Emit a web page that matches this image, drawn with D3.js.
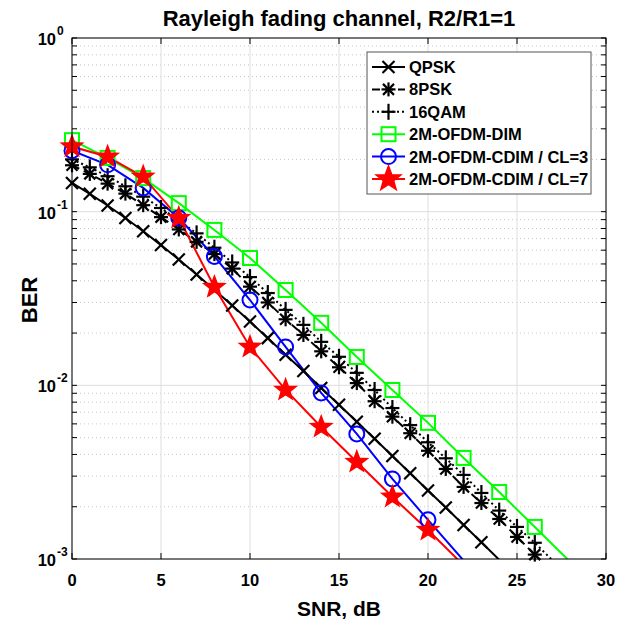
<!DOCTYPE html>
<html><head><meta charset="utf-8">
<script src="https://cdn.jsdelivr.net/npm/d3@7"></script>
<style>body{margin:0;background:#fff}svg{display:block}text{font-family:"Liberation Sans",Arial,sans-serif;font-weight:bold}</style>
</head><body><svg id="c" width="621" height="624"></svg>
<script>
const snrFine = d3.range(0, 28);
const snrCoarse = d3.range(0, 30, 2);
const qpsk = [0.1464,0.1267,0.1085,0.0919,0.0771,0.0642,0.0530,0.0435,0.0355,0.0288,0.0233,0.0187,0.0150,0.0121,0.00966,0.00773,0.00617,0.00492,0.00392,0.00312,0.00248,0.00198,0.00157,0.00125,0.00099,0.00079];
const psk8 = [0.185,0.165,0.145,0.127,0.109,0.093,0.079,0.067,0.057,0.047,0.037,0.030,0.024,0.0195,0.0157,0.0127,0.0103,0.0081,0.0066,0.0053,0.0042,0.0033,0.0026,0.0021,0.0017,0.00134,0.00106,0.00084];
const qam16 = [0.20,0.18,0.16,0.14,0.122,0.105,0.089,0.075,0.062,0.051,0.042,0.034,0.0272,0.0223,0.0178,0.0146,0.0118,0.0094,0.0074,0.0059,0.0047,0.0038,0.00305,0.0024,0.0019,0.00153,0.00124,0.00098];
const dim = [0.258,0.204,0.156,0.112,0.0785,0.0541,0.0354,0.0229,0.01457,0.0094,0.00608,0.00382,0.00243,0.00153,0.00096];
const cdim3 = [0.2245,0.186,0.137,0.092,0.0552,0.031,0.01664,0.00904,0.00525,0.00289,0.00168,0.00098];
const cdim7 = [0.237,0.207,0.159,0.092,0.0368,0.01664,0.00941,0.00576,0.00362,0.00228,0.00147,0.00092];
const seriesNames = ["QPSK","8PSK","16QAM","2M-OFDM-DIM","2M-OFDM-CDIM / CL=3","2M-OFDM-CDIM / CL=7"];
const xTicks = [0,5,10,15,20,25,30];
const yTickExp = [0,-1,-2,-3];

const series = [
  {name:seriesNames[0], x:snrFine, y:qpsk, color:"#000", dash:null, marker:"x"},
  {name:seriesNames[1], x:snrFine, y:psk8, color:"#000", dash:"8,5", marker:"star6"},
  {name:seriesNames[2], x:snrFine, y:qam16, color:"#000", dash:"2,3", marker:"plus"},
  {name:seriesNames[3], x:snrCoarse, y:dim, color:"#00ff00", dash:null, marker:"square"},
  {name:seriesNames[4], x:snrCoarse, y:cdim3, color:"#0000ff", dash:null, marker:"circle"},
  {name:seriesNames[5], x:snrCoarse, y:cdim7, color:"#ff0000", dash:null, marker:"pent"}
];

const L=72,R=606,T=38,B=559;
const x = d3.scaleLinear().domain([0,30]).range([L,R]);
const y = d3.scaleLog().domain([1e-3,1]).range([B,T]);
const svg = d3.select("#c");

svg.append("defs").append("clipPath").attr("id","clip").append("rect")
  .attr("x",L).attr("y",T).attr("width",R-L).attr("height",B-T);

// grid
const g = svg.append("g");
const minorVals = [];
for (let e=-3;e<0;e++) for (let m=2;m<=9;m++) minorVals.push(m*Math.pow(10,e));
g.selectAll(".ymin").data(minorVals).enter().append("line")
  .attr("x1",L).attr("x2",R).attr("y1",d=>y(d)).attr("y2",d=>y(d))
  .attr("stroke","#c8c8c8").attr("stroke-width",1).attr("stroke-dasharray","1,3");
g.selectAll(".ymaj").data(yTickExp.map(e=>Math.pow(10,e))).enter().append("line")
  .attr("x1",L).attr("x2",R).attr("y1",d=>y(d)).attr("y2",d=>y(d))
  .attr("stroke","#dedede").attr("stroke-width",1);
g.selectAll(".xg").data(xTicks).enter().append("line")
  .attr("x1",d=>x(d)).attr("x2",d=>x(d)).attr("y1",T).attr("y2",B)
  .attr("stroke","#dedede").attr("stroke-width",1);

// marker drawing
function marker(sel, type, color, cx, cy, big){
  const gg = sel.append("g").attr("transform",`translate(${cx},${cy})`);
  function ln(x1,y1,x2,y2){gg.append("line").attr("x1",x1).attr("y1",y1).attr("x2",x2).attr("y2",y2).attr("stroke",color).attr("stroke-width",2.2);}
  if(type==="x"){ln(-6,-6,6,6);ln(-6,6,6,-6);}
  else if(type==="plus"){ln(-7,0,7,0);ln(0,-8,0,8);}
  else if(type==="star6"){ln(-7,0,7,0);ln(0,-7,0,7);ln(-5.5,-5.5,5.5,5.5);ln(-5.5,5.5,5.5,-5.5);}
  else if(type==="square"){gg.append("rect").attr("x",-7).attr("y",-7).attr("width",14).attr("height",14).attr("stroke",color).attr("stroke-width",2).attr("fill","none");}
  else if(type==="circle"){gg.append("circle").attr("r",7.5).attr("stroke",color).attr("stroke-width",2).attr("fill","none");}
  else if(type==="pent"){
    const ro = big?13:11, ri = big?5.4:4.6;
    const pts=[];
    for(let i=0;i<10;i++){const r=i%2?ri:ro;const a=-Math.PI/2+i*Math.PI/5;pts.push([r*Math.cos(a),r*Math.sin(a)]);}
    gg.append("path").attr("d","M"+pts.map(p=>p.join(",")).join("L")+"Z").attr("fill",color).attr("stroke",color).attr("stroke-width",1.5).attr("stroke-linejoin","miter");
  }
}

// series
const plot = svg.append("g").attr("clip-path","url(#clip)");
const line = d3.line().x(d=>x(d[0])).y(d=>y(d[1]));
series.forEach(s=>{
  const pts = s.x.slice(0,s.y.length).map((v,i)=>[v,s.y[i]]);
  plot.append("path").attr("d",line(pts)).attr("fill","none").attr("stroke",s.color)
    .attr("stroke-width",2).attr("stroke-dasharray",s.dash);
  const mg = svg.append("g");
  pts.filter(p=>p[1]>=1e-3).forEach(p=>marker(mg,s.marker,s.color,x(p[0]),y(p[1])));
});

// axes box
svg.append("rect").attr("x",L).attr("y",T).attr("width",R-L).attr("height",B-T)
  .attr("fill","none").attr("stroke","#000").attr("stroke-width",1);
// ticks
const tk = svg.append("g").attr("stroke","#000").attr("stroke-width",1);
xTicks.forEach(v=>{
  tk.append("line").attr("x1",x(v)).attr("x2",x(v)).attr("y1",B).attr("y2",B-6);
  tk.append("line").attr("x1",x(v)).attr("x2",x(v)).attr("y1",T).attr("y2",T+6);
});
minorVals.concat(yTickExp.map(e=>Math.pow(10,e))).forEach(v=>{
  tk.append("line").attr("x1",L).attr("x2",L+5).attr("y1",y(v)).attr("y2",y(v));
  tk.append("line").attr("x1",R).attr("x2",R-5).attr("y1",y(v)).attr("y2",y(v));
});
// tick labels
svg.selectAll(".xl").data(xTicks).enter().append("text")
  .attr("x",d=>x(d)).attr("y",586).attr("text-anchor","middle").attr("font-size",16.5).text(d=>d);
yTickExp.forEach(e=>{
  const yy=y(Math.pow(10,e));
  svg.append("text").attr("x",56).attr("y",yy+7).attr("text-anchor","end").attr("font-size",16.5).text("10");
  svg.append("text").attr("x",57).attr("y",yy-3).attr("text-anchor","start").attr("font-size",12).text(e===0?"0":"-"+(-e));
});
// labels
svg.append("text").attr("x",339).attr("y",26).attr("text-anchor","middle").attr("font-size",22).text("Rayleigh fading channel, R2/R1=1");
svg.append("text").attr("x",339).attr("y",616).attr("text-anchor","middle").attr("font-size",21).text("SNR, dB");
svg.append("text").attr("transform","translate(37,300) rotate(-90)").attr("text-anchor","middle").attr("font-size",22).text("BER");

// legend
const lg = svg.append("g");
lg.append("rect").attr("x",367).attr("y",52).attr("width",224).attr("height",142)
  .attr("fill","#fff").attr("stroke","#555").attr("stroke-width",1);
series.forEach((s,i)=>{
  const yy = 67 + i*22.4;
  lg.append("line").attr("x1",372).attr("x2",405).attr("y1",yy).attr("y2",yy)
    .attr("stroke",s.color).attr("stroke-width",2).attr("stroke-dasharray",s.dash);
  marker(lg,s.marker,s.color,388.5,yy,true);
  lg.append("text").attr("x",409).attr("y",yy+6).attr("font-size",16.5).text(s.name);
});
</script></body></html>
